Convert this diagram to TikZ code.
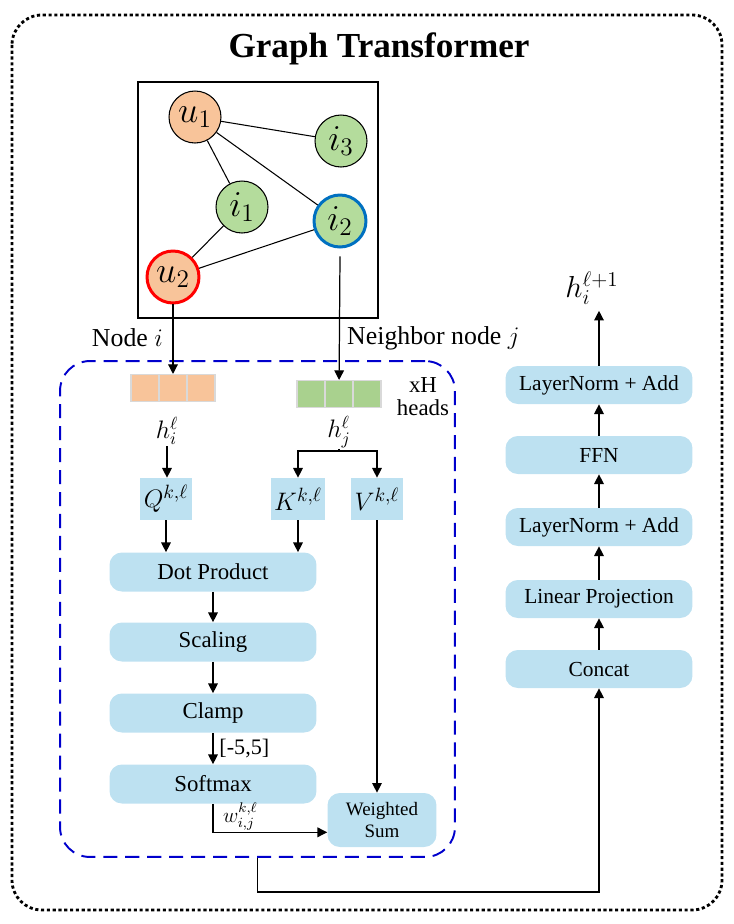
\documentclass[tikz,border=0pt]{standalone}
\usepackage{fontspec}
\setmainfont{Liberation Serif}
\usetikzlibrary{arrows.meta,positioning}
\definecolor{boxblue}{HTML}{BDE1F1}
\definecolor{nodeorange}{HTML}{F8C49A}
\definecolor{nodegreen}{HTML}{B4DC9C}
\definecolor{vecgreen}{HTML}{A9D18E}
\definecolor{ringblue}{HTML}{0070C0}
\definecolor{headblue}{HTML}{0000CC}

\begin{document}
\begin{tikzpicture}[x=0.02cm, y=-0.02cm]
    \tikzset{gnode/.style = {shape=circle, draw, line width=0.6pt, minimum size=1.04cm, inner sep=0pt, font=\fontsize{21}{25}\selectfont}}
    \tikzset{vcell/.style = {shape=rectangle, draw=black!15, line width=0.6pt, minimum width=0.56cm, minimum height=0.54cm, inner sep=0pt}}
    \tikzset{qkvbox/.style = {shape=rectangle, fill=boxblue, minimum width=1.0cm, minimum height=0.84cm, inner xsep=2pt, font=\fontsize{15}{18}\selectfont}}
    \tikzset{opbox/.style = {shape=rectangle, rounded corners=7pt, fill=boxblue, minimum width=4.14cm, minimum height=0.78cm, inner sep=0pt, font=\fontsize{13}{15}\selectfont}}
    \tikzset{ffbox/.style = {shape=rectangle, rounded corners=7pt, fill=boxblue, minimum width=3.74cm, minimum height=0.76cm, inner sep=0pt, font=\fontsize{12.2}{14}\selectfont}}
    \tikzset{feat/.style = {inner sep=0.5pt, font=\fontsize{14}{17}\selectfont}}
    \tikzset{edge/.style = {->, >={Triangle[length=5.5pt, width=5.5pt]}, line width=0.7pt}}
    \tikzset{edgeun/.style = {-, line width=0.6pt}}

    % frames
    \useasboundingbox (0,0) rectangle (734,924);
    \draw[line width=1.6pt, dash pattern=on 1.8pt off 1.5pt, rounded corners=17pt] (12,15) rectangle (722,910);
    \node[font=\fontsize{20}{24}\selectfont\bfseries, anchor=base] (title) at (379,57) {Graph Transformer};
    \node[draw, line width=0.7pt, minimum width=4.8cm, minimum height=4.72cm, inner sep=0pt] (graph) at (258,200) {};
    \node[draw=headblue, line width=1.1pt, dash pattern=on 8pt off 4.5pt, rounded corners=17pt, minimum width=7.9cm, minimum height=9.92cm, inner sep=0pt] (heads) at (257.5,609) {};

    % input graph
    \node[gnode, fill=nodeorange] (u1) at (195,117) {$u_1$};
    \node[gnode, fill=nodegreen] (i3) at (341,141) {$i_3$};
    \node[gnode, fill=nodegreen] (i1) at (242,207) {$i_1$};
    \node[gnode, fill=nodegreen, draw=ringblue, line width=1.7pt] (i2) at (340,221) {$i_2$};
    \node[gnode, fill=nodeorange, draw=red, line width=1.7pt] (u2) at (173,277) {$u_2$};

    \draw[edgeun] (u1) -- (i3);
    \draw[edgeun] (u1) -- (i1);
    \draw[edgeun] (u1) -- (i2);
    \draw[edgeun] (i1) -- (u2);
    \draw[edgeun] (u2) -- (i2);

    % node features
    \node[vcell, fill=nodeorange] (hi1) at (145,388) {};
    \node[vcell, fill=nodeorange] (hi2) at (173,388) {};
    \node[vcell, fill=nodeorange] (hi3) at (201,388) {};
    \node[vcell, fill=vecgreen] (hj1) at (311,394) {};
    \node[vcell, fill=vecgreen] (hj2) at (339,394) {};
    \node[vcell, fill=vecgreen] (hj3) at (367,394) {};

    \draw[edge] (u2) -- (hi2);
    \draw[edge] ([yshift=-4.5pt]i2.south) -- (hj2);
    \node[anchor=east, font=\fontsize{14.7}{17}\selectfont] (nodei) at (169,338) {Node $i$};
    \node[anchor=west, font=\fontsize{14.7}{17}\selectfont] (nodej) at (341,338) {Neighbor node $j$};
    \node[align=center, font=\fontsize{13}{13}\selectfont] (xh) at (423,397) {xH\\heads};

    \node[feat] (hil) at (167,431) {$h_i^{\ell}$};
    \node[feat] (hjl) at (339,432) {$h_j^{\ell}$};

    % attention
    \node[qkvbox] (Q) at (166,499) {$Q^{k,\ell}$};
    \node[qkvbox] (K) at (298,499) {$K^{k,\ell}$};
    \node[qkvbox] (V) at (377,499) {$V^{k,\ell}$};
    \coordinate (fork) at (339,451);

    \draw[edge] (hil) -- (hil |- Q.north);
    \draw[edgeun] (hjl) -- (fork);
    \draw[edge] (fork) -| (K.north);
    \draw[edge] (fork) -| (V.north);

    \node[opbox] (dot) at (213,572) {Dot Product};
    \node[opbox] (scal) at (213,642) {Scaling};
    \node[opbox] (clamp) at (213,713) {Clamp};
    \node[opbox] (soft) at (213,784) {Softmax};
    \node[shape=rectangle, rounded corners=7pt, fill=boxblue, minimum width=2.18cm, minimum height=1.08cm, inner sep=0pt, align=center, font=\fontsize{10.8}{12.5}\selectfont] (wsum) at (382,820) {Weighted\\Sum};

    \draw[edge] (Q) -- (Q |- dot.north);
    \draw[edge] (K) -- (K |- dot.north);
    \draw[edge] (dot) -- (scal);
    \draw[edge] (scal) -- (clamp);
    \draw[edge] (clamp) -- node[right, font=\fontsize{12.6}{15}\selectfont] {[-5,5]} (soft);
    \draw[edge] (V) -- (V |- wsum.north);
    \draw[edge] (soft.south) |- node[pos=0.62, above, inner sep=0.8pt, font=\fontsize{12}{14}\selectfont] {$w_{i,j}^{k,\ell}$} ([yshift=-7pt]wsum.west);

    % feed forward
    \node[ffbox] (concat) at (599,669) {Concat};
    \node[ffbox] (lin) at (599,599) {Linear Projection};
    \node[ffbox] (ln1) at (599,527) {LayerNorm + Add};
    \node[ffbox] (ffn) at (599,455) {FFN};
    \node[ffbox] (ln2) at (599,385) {LayerNorm + Add};
    \node[font=\fontsize{17}{20}\selectfont] (hout) at (592,288) {$h_i^{\ell+1}$};

    \draw[edge] (heads.south) -- ++(0,34) -| (concat.south);
    \draw[edge] (concat) -- (lin);
    \draw[edge] (lin) -- (ln1);
    \draw[edge] (ln1) -- (ffn);
    \draw[edge] (ffn) -- (ln2);
    \draw[edge] (ln2.north) -- (ln2.north |- hout.south);
\end{tikzpicture}
\end{document}
